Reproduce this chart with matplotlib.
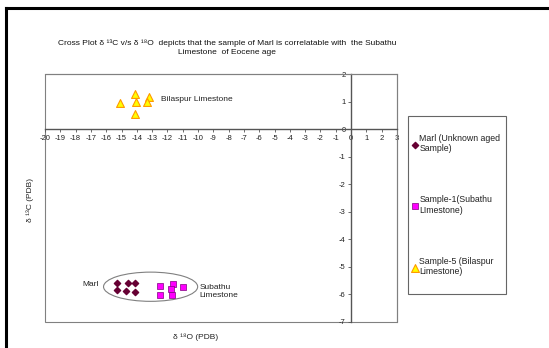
import matplotlib
matplotlib.use("Agg")
import matplotlib.pyplot as plt
from matplotlib.patches import Ellipse, Rectangle
from matplotlib.lines import Line2D

plt.rcParams['font.family'] = ['Liberation Sans', 'DejaVu Sans']
plt.rcParams['axes.unicode_minus'] = False

# d18O, d13C values
marl_o = [-15.3, -14.6, -14.15, -15.3, -14.7, -14.1]
marl_c = [-5.58, -5.60, -5.58, -5.84, -5.86, -5.91]

subathu_o = [-12.5, -11.65, -11.75, -11.0, -12.5, -11.7]
subathu_c = [-5.70, -5.62, -5.82, -5.72, -6.02, -6.02]

bilaspur_o = [-15.1, -14.15, -14.05, -13.2, -13.35, -14.1]
bilaspur_c = [0.95, 1.28, 1.0, 1.15, 0.97, 0.55]

x_ticks = list(range(-20, 4))
y_ticks = list(range(-7, 3))

title = ("Cross Plot \u03b4 \u00b9\u00b3C v/s \u03b4 \u00b9\u2078O  depicts that the sample of Marl "
         "is correlatable with  the Subathu\nLimestone  of Eocene age")

fig = plt.figure(figsize=(5.49, 3.48), dpi=100)
ax = fig.add_axes([45 / 549, 26 / 348, 352 / 549, 248 / 348])

ax.scatter(marl_o, marl_c, marker='D', s=10, color='#660033', zorder=3,
           label='Marl (Unknown aged\nSample)')
ax.scatter(subathu_o, subathu_c, marker='s', s=24, facecolor='#ff00ff',
           edgecolor='#800080', linewidths=0.5, zorder=3,
           label='Sample-1(Subathu\nLImestone)')
ax.scatter(bilaspur_o, bilaspur_c, marker='^', s=32, facecolor='#ffff00',
           edgecolor='#ff9900', linewidths=0.8, zorder=3,
           label='Sample-5 (Bilaspur\nLimestone)')

ax.add_patch(Ellipse((-13.1, -5.72), 6.15, 1.06, fill=False,
                     edgecolor='#808080', lw=0.8))

ax.set_xlim(-20, 3)
ax.set_ylim(-7, 2)
ax.set_xticks(x_ticks)
ax.set_yticks(y_ticks)

for side in ['left', 'bottom']:
    ax.spines[side].set_position(('data', 0))
    ax.spines[side].set_color('#555555')
    ax.spines[side].set_linewidth(1.0)
for side in ['top', 'right']:
    ax.spines[side].set_color('#808080')
    ax.spines[side].set_linewidth(0.8)
ax.add_patch(Rectangle((0, 0), 1, 1, transform=ax.transAxes, fill=False,
                       edgecolor='#808080', lw=0.8, clip_on=False))

ax.tick_params(axis='both', labelsize=5.5, length=2.5, width=0.6,
               color='#555555', labelcolor='#222222', pad=1.5, direction='out')

ax.text(-12.4, 1.09, 'Bilaspur Limestone', fontsize=6, color='#222222', va='center')
ax.text(-16.5, -5.65, 'Marl', fontsize=6, color='#222222', ha='right', va='center')
ax.text(-9.9, -5.9, 'Subathu\nLimestone', fontsize=6, color='#222222', va='center',
        linespacing=1.1)

fig.text(0.414, 0.8635, title, ha='center', va='center', fontsize=6.0,
         color='#111111', linespacing=1.3)
fig.text(0.357, 0.032, '\u03b4 \u00b9\u2078O (PDB)', ha='center', va='center',
         fontsize=6.0, color='#222222')
fig.text(0.055, 0.425, '\u03b4 \u00b9\u00b3C (PDB)', ha='center', va='center',
         fontsize=6.0, color='#222222', rotation=90)

# legend: entries without frame, box drawn separately
leg = fig.legend(loc='upper left', bbox_to_anchor=(412 / 549, 1 - 134 / 348),
                 fontsize=6.3, frameon=False, labelspacing=4.8, handlelength=0.6,
                 handletextpad=0.25, borderpad=0, borderaxespad=0, markerscale=1.0)
for t in leg.get_texts():
    t.set_color('#222222')
fig.add_artist(Rectangle((408 / 549, 1 - 294 / 348), 98 / 549, 178 / 348,
                         transform=fig.transFigure, fill=False,
                         edgecolor='#666666', lw=0.8))

# black border lines of the page
fig.add_artist(Line2D([6 / 549, 1], [1 - 8 / 348, 1 - 8 / 348], color='black', lw=2.2))
fig.add_artist(Line2D([6 / 549, 6 / 549], [0, 1 - 8 / 348], color='black', lw=2.2))

fig.savefig('out.png', dpi=100)
